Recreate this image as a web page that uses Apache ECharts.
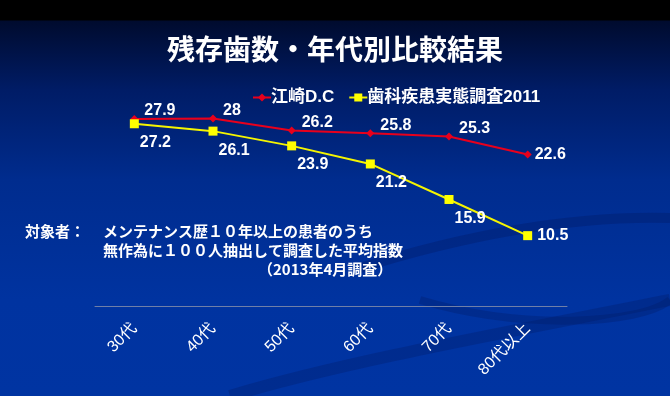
<!DOCTYPE html>
<html><head><meta charset="utf-8">
<script src="https://cdn.jsdelivr.net/npm/echarts@6/dist/echarts.min.js"></script>
<style>
html,body{margin:0;padding:0;}
body{width:670px;height:396px;overflow:hidden;background:linear-gradient(to bottom,#000 0px,#000 20px,#000b2e 21px,#001c66 90px,#002c8e 180px,#0033a0 300px,#0034a2 396px);}
#c{width:670px;height:396px;}
</style></head>
<body><div id="c"></div>
<script>
const categories = ['30代','40代','50代','60代','70代','80代以上'];
const ezakiValues = [27.9, 28, 26.2, 25.8, 25.3, 22.6];
const surveyValues = [27.2, 26.1, 23.9, 21.2, 15.9, 10.5];
const seriesNames = ['江崎D.C', '歯科疾患実態調査2011'];
const titleText = '残存歯数・年代別比較結果';
const noteLabel = '対象者：';
const noteLines = ['メンテナンス歴１０年以上の患者のうち', '無作為に１００人抽出して調査した平均指数'];
const noteDate = '（2013年4月調査）';

const FONT = '"Liberation Sans","Noto Sans CJK JP",sans-serif';
const chart = echarts.init(document.getElementById('c'), null, {renderer:'canvas'});

function lastRight(values, lastOffset){
  return values.map((v,i)=> i===values.length-1 ? {value:v, label:{position:'right', offset:lastOffset}} : v);
}
const swoosh = (x1,y1,c1x,c1y,c2x,c2y,x2,y2,w,col) => ({type:'bezierCurve', z:-10, silent:true,
  shape:{x1:x1,y1:y1,cpx1:c1x,cpy1:c1y,cpx2:c2x,cpy2:c2y,x2:x2,y2:y2},
  style:{stroke:col, lineWidth:w, fill:null}});

const option = {
  backgroundColor:'transparent',
  animation:false,
  title:{text:titleText, left:'center', top:30,
    textStyle:{color:'#fff', fontSize:28, fontWeight:'bold', fontFamily:'"Noto Sans CJK JP",sans-serif'}},
  legend:{left:247, top:84, itemWidth:18, itemHeight:10, itemGap:14,
    textStyle:{color:'#fff', fontSize:17, fontWeight:'bold', fontFamily:FONT, padding:[0,0,0,-5]},
    data:seriesNames},
  grid:{left:95, right:103, top:105, bottom:90},
  xAxis:{type:'category', data:categories, boundaryGap:true,
    axisLine:{lineStyle:{color:'#6f7fa8', width:1}},
    axisTick:{show:false},
    axisLabel:{color:'#fff', fontSize:16, rotate:45, margin:20, fontFamily:FONT}},
  yAxis:{type:'value', min:0, max:30, show:false, splitLine:{show:false}},
  series:[
    {name:seriesNames[0], type:'line', data:lastRight(ezakiValues,[-2,0]),
      symbol:'diamond', symbolSize:8, lineStyle:{color:'#e8001c', width:2}, itemStyle:{color:'#e8001c'},
      label:{show:true, position:'right', distance:5, offset:[1,-8], color:'#fff', fontSize:16, fontWeight:'bold', fontFamily:FONT}},
    {name:seriesNames[1], type:'line', data:lastRight(surveyValues,[0,0]),
      symbol:'rect', symbolSize:9, lineStyle:{color:'#f5f500', width:2}, itemStyle:{color:'#ffff00'},
      label:{show:true, position:'right', distance:5, offset:[-4,19], color:'#fff', fontSize:16, fontWeight:'bold', fontFamily:FONT}}
  ],
  graphic:[
    swoosh(360,268, 450,240, 560,215, 670,218, 10, 'rgba(0,25,100,0.35)'),
    swoosh(420,300, 520,330, 640,325, 670,300, 8, 'rgba(0,25,100,0.3)'),
    swoosh(230,396, 350,360, 520,330, 670,300, 12, 'rgba(0,25,100,0.3)'),
    {type:'text', left:25, top:224, style:{text:noteLabel, fill:'#fff', font:'bold 15px "Noto Sans CJK JP",sans-serif'}},
    {type:'text', left:103, top:224, style:{text:noteLines[0], fill:'#fff', font:'bold 15px "Noto Sans CJK JP",sans-serif'}},
    {type:'text', left:103, top:243, style:{text:noteLines[1], fill:'#fff', font:'bold 15px "Noto Sans CJK JP",sans-serif'}},
    {type:'text', left:258, top:262, style:{text:noteDate, fill:'#fff', font:'bold 15px "Noto Sans CJK JP",sans-serif'}}
  ]
};
chart.setOption(option);
</script></body></html>
